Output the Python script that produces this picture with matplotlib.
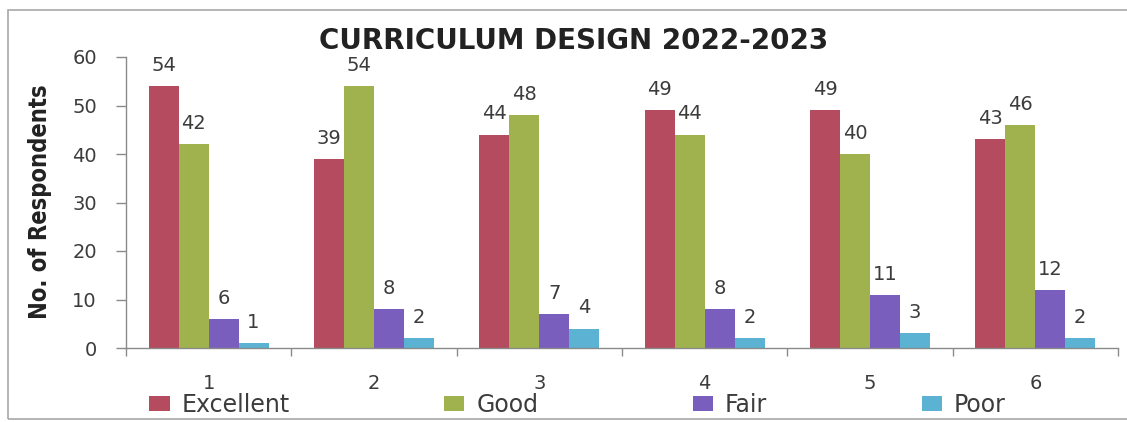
import matplotlib
matplotlib.use("Agg")
import matplotlib.pyplot as plt
import numpy as np
from matplotlib import font_manager
from matplotlib.patches import Rectangle

categories = ["1", "2", "3", "4", "5", "6"]
series_names = ["Excellent", "Good", "Fair", "Poor"]
excellent = [54, 39, 44, 49, 49, 43]
good = [42, 54, 48, 44, 40, 46]
fair = [6, 8, 7, 8, 11, 12]
poor = [1, 2, 4, 2, 3, 2]
y_ticks = [0, 10, 20, 30, 40, 50, 60]

colors = ["#B44B5E", "#9FB24E", "#7A5EBE", "#5CB2D2"]
text_grey = "#3c3c3c"
axis_grey = "#8a8a8a"

plt.rcParams["font.family"] = ["DejaVu Sans"]


def narrow_font():
    # the y label in the reference is a condensed bold face
    names = {f.name for f in font_manager.fontManager.ttflist}
    if "Liberation Sans Narrow" in names:
        return {"family": ["Liberation Sans Narrow", "DejaVu Sans"]}
    condensed = [f for f in font_manager.fontManager.ttflist
                 if f.name == "DejaVu Sans" and f.stretch == "condensed"]
    if condensed:
        return {"family": ["DejaVu Sans"], "stretch": "condensed"}
    return {"family": ["DejaVu Sans"]}


W, H = 1127, 422
fig = plt.figure(figsize=(W / 100, H / 100), dpi=100)
ax = fig.add_axes([126 / W, 1 - 348 / H, (1118 - 126) / W, (348 - 57) / H])

x = np.arange(len(categories))
bar_w = 0.181
all_series = [excellent, good, fair, poor]
for i, (name, vals) in enumerate(zip(series_names, all_series)):
    pos = x + (i - 1.5) * bar_w
    bars = ax.bar(pos, vals, width=bar_w, color=colors[i], label=name, linewidth=0)
    for b, v in zip(bars, vals):
        ax.annotate(str(v), (b.get_x() + b.get_width() / 2, v),
                    xytext=(0, 8), textcoords="offset points",
                    ha="center", va="bottom", fontsize=14, color=text_grey)

ax.set_xlim(-0.5, len(categories) - 0.5)
ax.set_ylim(0, 60)
ax.set_yticks(y_ticks)

# category boundaries get the tick marks, labels sit at the centres
ax.set_xticks(np.arange(len(categories) + 1) - 0.5)
ax.set_xticklabels([])
ax.set_xticks(x, minor=True)
ax.set_xticklabels(categories, minor=True)
ax.tick_params(axis="x", which="major", length=6, width=1, color=axis_grey, direction="out")
ax.tick_params(axis="x", which="minor", length=0, pad=19, labelsize=14, labelcolor=text_grey)
ax.tick_params(axis="y", length=7, width=1, color=axis_grey, direction="out",
               pad=14, labelsize=14, labelcolor=text_grey)

for side in ["top", "right"]:
    ax.spines[side].set_visible(False)
for side in ["left", "bottom"]:
    ax.spines[side].set_color(axis_grey)
    ax.spines[side].set_linewidth(1)

fig.text(574 / W, 1 - 41 / H, "CURRICULUM DESIGN 2022-2023", ha="center", va="center",
         fontsize=20, fontweight="bold", color="#222222")

fig.text(40 / W, 1 - 202 / H, "No. of Respondents", rotation=90, ha="center", va="center",
         fontsize=17, fontweight="bold", color="#222222", **narrow_font())

fig.legend(loc="center left", bbox_to_anchor=(140 / W, 1 - 405 / H, (1015 - 140) / W, 0.0),
           mode="expand", ncol=4, frameon=False, fontsize=17, labelcolor=text_grey,
           handlelength=0.85, handleheight=0.6, handletextpad=0.5, borderaxespad=0)

fig.patches.append(Rectangle((8 / W, 3 / H), 1.1, (419 - 10) / H, transform=fig.transFigure,
                             fill=False, edgecolor="#a8a8a8", linewidth=1.2))

fig.savefig("out.png", dpi=100)
